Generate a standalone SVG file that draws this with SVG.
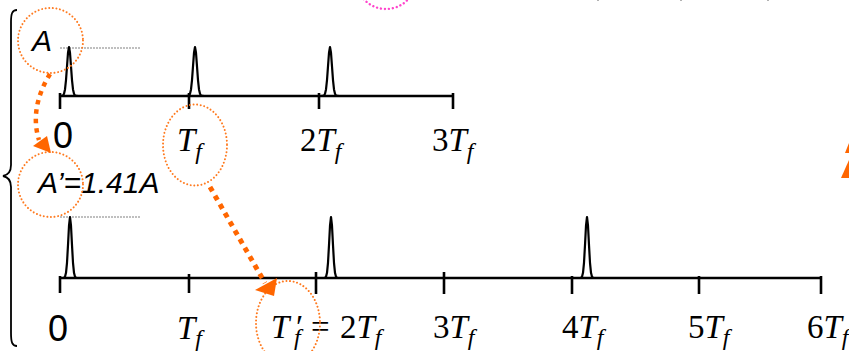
<svg xmlns="http://www.w3.org/2000/svg" width="849" height="351" viewBox="0 0 849 351">
<style>
.ax{stroke:#000;stroke-width:2.6;fill:none}
.pulse{stroke:#000;stroke-width:2.2;fill:none;stroke-linejoin:round}
.ref{stroke:#aaa;stroke-width:1.3;stroke-dasharray:2 1}
.ring{fill:none;stroke:#ff7a1f;stroke-width:2;stroke-dasharray:0.01 3.6;stroke-linecap:round}
.pink{fill:none;stroke:#ff44cc;stroke-width:2.4;stroke-dasharray:0.01 4;stroke-linecap:round}
.dots{fill:none;stroke:#ff6600;stroke-width:5;stroke-dasharray:5 5}
.head{fill:#ff6600}
.sans{font-family:"Liberation Sans",Arial,sans-serif;font-style:italic;font-size:30px;fill:#000}
.zero{font-family:"Liberation Sans",Arial,sans-serif;font-size:36px;fill:#000}
.tm{font-family:"Liberation Serif","Times New Roman",serif;font-size:33px;fill:#000}
.i{font-style:italic}
.sub{font-style:italic;font-size:24px}
</style>
<defs>
<path id="pt" d="M-9,0 L-6,-0.5 -5,-2.2 -4,-6.6 -3,-15.9 -2,-29.7 -1,-43.2 0,-49 1,-43.2 2,-29.7 3,-15.9 4,-6.6 5,-2.2 6,-0.5 9,0"/>
<path id="pb" d="M-8,0 L-6,-0.2 -5,-1.3 -4,-5.2 -3,-15.2 -2,-32.9 -1,-52.3 0,-61 1,-52.3 2,-32.9 3,-15.2 4,-5.2 5,-1.3 6,-0.2 8,0"/>
</defs>

<g id="brace">
<path d="M17,10 C12,10 11,14 11,22 L11,165 C11,172 8,175 3,176 C8,177 11,180 11,187 L11,333 C11,342 12,346 17,346" fill="none" stroke="#000" stroke-width="1.8"/>
</g>

<g id="top-axis">
<line class="ax" x1="60" y1="96" x2="453" y2="96"/>
<line class="ax" x1="60" y1="93" x2="60" y2="109"/>
<line class="ax" x1="189" y1="93" x2="189" y2="109"/>
<line class="ax" x1="319" y1="93" x2="319" y2="109"/>
<line class="ax" x1="453" y1="93" x2="453" y2="109"/>
<line class="ref" x1="60" y1="48" x2="140" y2="48"/>
<use href="#pt" class="pulse" x="69" y="96"/>
<use href="#pt" class="pulse" x="195" y="96"/>
<use href="#pt" class="pulse" x="330" y="96"/>
</g>

<g id="top-labels">
<text class="sans" x="32" y="51">A</text>
<text class="zero" x="53" y="148">0</text>
<text class="tm" x="177" y="151"><tspan class="i">T</tspan><tspan class="sub" dy="8">f</tspan></text>
<text class="tm" x="300" y="151">2<tspan class="i">T</tspan><tspan class="sub" dy="8">f</tspan></text>
<text class="tm" x="432" y="151">3<tspan class="i">T</tspan><tspan class="sub" dy="8">f</tspan></text>
</g>

<g id="bottom-axis">
<line class="ax" x1="60" y1="278" x2="821" y2="278"/>
<line class="ax" x1="60" y1="276" x2="60" y2="293"/>
<line class="ax" x1="189" y1="274" x2="189" y2="293"/>
<line class="ax" x1="316" y1="272" x2="316" y2="294"/>
<line class="ax" x1="444" y1="272" x2="444" y2="294"/>
<line class="ax" x1="572" y1="276" x2="572" y2="294"/>
<line class="ax" x1="699" y1="276" x2="699" y2="294"/>
<line class="ax" x1="821" y1="276" x2="821" y2="294"/>
<line class="ref" x1="60" y1="217" x2="140" y2="217"/>
<use href="#pb" class="pulse" x="70" y="278"/>
<use href="#pb" class="pulse" x="331" y="278"/>
<use href="#pb" class="pulse" x="587" y="278"/>
</g>

<g id="bottom-labels">
<text class="sans" x="38" y="193">A’=1.41A</text>
<text class="zero" x="48" y="341">0</text>
<text class="tm" x="177" y="339"><tspan class="i">T</tspan><tspan class="sub" dy="7">f</tspan></text>
<text class="tm" y="338"><tspan class="i" x="271">T</tspan><tspan x="296">′</tspan><tspan class="sub" x="294" y="345">f</tspan><tspan x="311" y="338">=</tspan><tspan x="340">2</tspan><tspan class="i">T</tspan><tspan class="sub" dy="7">f</tspan></text>
<text class="tm" x="433" y="338">3<tspan class="i">T</tspan><tspan class="sub" dy="7">f</tspan></text>
<text class="tm" x="562" y="338">4<tspan class="i">T</tspan><tspan class="sub" dy="7">f</tspan></text>
<text class="tm" x="688" y="338">5<tspan class="i">T</tspan><tspan class="sub" dy="7">f</tspan></text>
<text class="tm" x="807" y="338">6<tspan class="i">T</tspan><tspan class="sub" dy="7">f</tspan></text>
</g>

<g id="highlights">
<circle class="ring" cx="50.5" cy="40.5" r="32.5"/>
<circle class="ring" cx="50.5" cy="184.5" r="32.5"/>
<ellipse class="ring" cx="195" cy="145" rx="32" ry="40.5"/>
<ellipse class="ring" cx="288" cy="323" rx="32" ry="42"/>
<circle class="pink" cx="386" cy="-21" r="30"/>
</g>

<g id="connectors">
<path class="dots" style="stroke-width:4.5;stroke-dasharray:4.5 5" d="M50,74 C37,95 32,118 39,140"/>
<polygon class="head" points="33,146 47,136 51,153"/>
<path class="dots" d="M210,187 L265,283"/>
<polygon class="head" points="255,290 277,278 274,296"/>
<polygon class="head" points="841,178 849,160 849,178"/>
<polygon class="head" points="845,153 849,143 849,153"/>
</g>

<g id="edge-marks" stroke="#999" stroke-width="1.5">
<line x1="598" y1="0" x2="598" y2="1"/>
<line x1="681" y1="0" x2="681" y2="1"/>
<line x1="768" y1="0" x2="768" y2="1"/>
</g>
</svg>
